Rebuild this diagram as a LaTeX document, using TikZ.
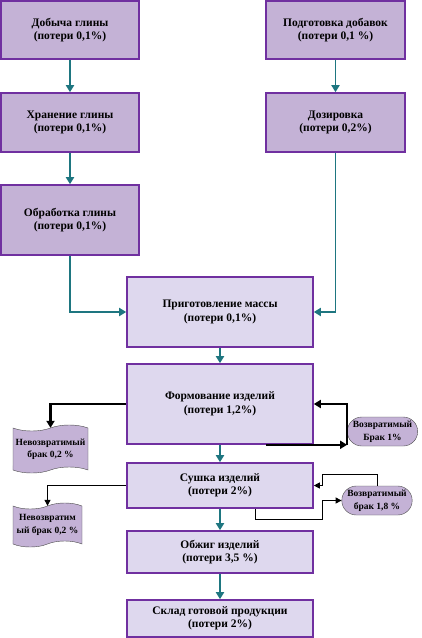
\documentclass[tikz,border=0pt]{standalone}
\usepackage{fontspec}
\setmainfont{Liberation Serif}
\usepackage{tikz}
\usetikzlibrary{arrows.meta,positioning,shapes.symbols,shapes.misc}
\definecolor{boxfill}{RGB}{196,178,214}
\definecolor{lightfill}{RGB}{222,216,238}
\definecolor{boxline}{RGB}{112,48,160}
\definecolor{flowcol}{RGB}{30,118,128}
\tikzset{
  stagebox/.style={draw=boxline, line width=1.6pt, fill=boxfill, align=center,
    font=\bfseries\fontsize{11.5}{13.5}\selectfont, inner sep=2pt},
  mainbox/.style={stagebox, fill=lightfill, minimum width=186pt},
  lossbox/.style={tape, draw=black!70, thin, fill=boxfill, align=center,
    tape bend height=6pt, inner sep=1pt,
    font=\bfseries\fontsize{9.5}{12.5}\selectfont},
  backbox/.style={rounded rectangle, draw=black!70, thin, fill=boxfill, align=center,
    inner sep=1pt, minimum width=70pt, minimum height=29pt,
    font=\bfseries\fontsize{9.5}{12.5}\selectfont},
  flow/.style={draw=flowcol, line width=1.8pt, -{Triangle[length=7pt,width=8pt]}},
  ret/.style={draw=black, line width=2.2pt, -{Triangle[length=7pt,width=8pt]}},
  retthin/.style={draw=black, line width=1pt, -{Triangle[length=6pt,width=6pt]}}
}

\begin{document}
\begin{tikzpicture}[x=1pt,y=-1pt]
\useasboundingbox (0,0) rectangle (421,638);
% clay line
\node[stagebox, minimum width=138pt, minimum height=58pt] (dob) at (70,30)
  {Добыча глины\\(потери 0,1\%)};
\node[stagebox, minimum width=138pt, minimum height=59pt] (hran) at (70,122.5)
  {Хранение глины\\(потери 0,1\%)};
\node[stagebox, minimum width=138pt, minimum height=70pt] (obr) at (70,220)
  {Обработка глины\\(потери 0,1\%)};
% additives line
\node[stagebox, minimum width=139pt, minimum height=58pt] (podg) at (335.5,30)
  {Подготовка добавок\\(потери 0,1 \%)};
\node[stagebox, minimum width=139pt, minimum height=59pt] (doz) at (335.5,122.5)
  {Дозировка\\(потери 0,2\%)};
% main line
\node[mainbox, minimum height=70pt] (prig) at (220,312)
  {Приготовление массы\\(потери 0,1\%)};
\node[mainbox, minimum height=80pt] (form) at (220,404)
  {Формование изделий\\(потери 1,2\%)};
\node[mainbox, minimum height=45pt] (sush) at (220,485.5)
  {Сушка изделий\\(потери 2\%)};
\node[mainbox, minimum height=42pt] (obzh) at (220,552)
  {Обжиг изделий\\(потери 3,5 \%)};
\node[mainbox, minimum height=37pt] (sklad) at (220,618.5)
  {Склад готовой продукции\\(потери 2\%)};
% rejects
\node[lossbox, minimum width=75pt, minimum height=48pt] (nb1) at (50.5,449)
  {Невозвратимый\\брак 0,2 \%};
\node[lossbox, minimum width=69pt, minimum height=44pt] (nb2) at (47.5,525)
  {Невозвратим\\ый брак 0,2 \%};
\node[backbox] (vb1) at (382.5,431.5) {Возвратимый\\Брак 1\%};
\node[backbox] (vb2) at (377,500.5) {Возвратимый\\брак 1,8 \%};
% flow arrows
\draw[flow] (dob) -- (hran);
\draw[flow] (hran) -- (obr);
\draw[flow] (obr.south) |- (prig.west);
\draw[flow] (podg) -- (doz);
\draw[flow] (doz.south) |- (prig.east);
\draw[flow] (prig) -- (form);
\draw[flow] (form) -- (sush);
\draw[flow] (sush) -- (obzh);
\draw[flow] (obzh) -- (sklad);
% reject loops
\draw[ret] (form.west) -| (nb1.north);
\coordinate (f1) at ([xshift=-48pt]form.south east);
\coordinate (r1) at (vb1.west |- f1);
\draw[ret] (f1) -- (r1);
\draw[ret] (r1) |- (form.east);
\draw[retthin] (sush.west) -| (nb2.north);
\coordinate (f2) at ([xshift=-58pt]sush.south east);
\draw[retthin] (f2) -- ++(0,11) -| ([xshift=-19pt]vb2.west) -- (vb2.west);
\draw[retthin] (vb2.north) -- ++(0,-11) -| ([xshift=9pt]sush.east) -- (sush.east);
\end{tikzpicture}
\end{document}
